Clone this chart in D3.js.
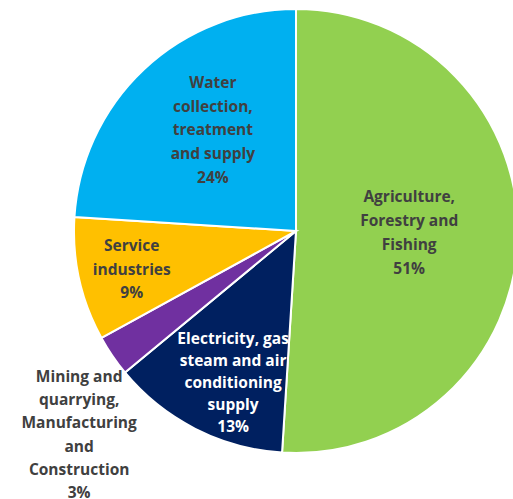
<!DOCTYPE html>
<html>
<head>
<meta charset="utf-8">
<script src="https://cdn.jsdelivr.net/npm/d3@7"></script>
<style>
  body { margin: 0; background: #fff; }
  svg { display: block; }
  text { font-family: "Open Sans", Lato, sans-serif; font-weight: bold; }
</style>
</head>
<body>
<svg id="chart"></svg>
<script>
// data
const sectors = ["Agriculture, Forestry and Fishing",
                 "Electricity, gas steam and air conditioning supply",
                 "Mining and quarrying, Manufacturing and Construction",
                 "Service industries",
                 "Water collection, treatment and supply"];
const shares = [51, 13, 3, 9, 24];
const labelLines = [
  ["Agriculture,", "Forestry and", "Fishing"],
  ["Electricity, gas", "steam and air", "conditioning", "supply"],
  ["Mining and", "quarrying,", "Manufacturing", "and", "Construction"],
  ["Service", "industries"],
  ["Water", "collection,", "treatment", "and supply"]
];

// style
const colors = ["#92D050", "#002060", "#7030A0", "#FFC000", "#00B0F0"];
const textColors = ["#404040", "#ffffff", "#404040", "#404040", "#404040"];
// label placement: radius factor and angle nudge (deg)
const labelR = [0.51, 0.74, 1.34, 0.76, 0.59];
const labelDA = [-1.2, -4.5, -9, -0.6, 3.8];
const lineH = [24, 22, 23.2, 23.5, 23.7];

const W = 513, H = 499;
const cx = 296, cy = 231, R = 222;

const svg = d3.select("#chart").attr("width", W).attr("height", H);
const g = svg.append("g").attr("transform", `translate(${cx},${cy})`);

const pie = d3.pie().sort(null).value(d => d)(shares);
const arc = d3.arc().innerRadius(0).outerRadius(R);

g.selectAll("path.slice")
  .data(pie)
  .enter().append("path")
  .attr("class", "slice")
  .attr("d", arc)
  .attr("fill", (d, i) => colors[i])
  .attr("stroke", "#fff")
  .attr("stroke-width", 2);

const total = d3.sum(shares);

pie.forEach((d, i) => {
  const a = (d.startAngle + d.endAngle) / 2 + labelDA[i] * Math.PI / 180;
  const r = R * labelR[i];
  const x = r * Math.sin(a), y = -r * Math.cos(a);
  const lines = labelLines[i].concat([Math.round(shares[i] / total * 100) + "%"]);
  const n = lines.length;
  const t = g.append("text")
    .attr("text-anchor", "middle")
    .attr("fill", textColors[i])
    .style("font-size", "15.5px");
  lines.forEach((ln, k) => {
    t.append("tspan")
      .attr("x", x)
      .attr("y", y + (k - (n - 1) / 2) * lineH[i])
      .attr("dy", "0.35em")
      .text(ln);
  });
});
</script>
</body>
</html>
